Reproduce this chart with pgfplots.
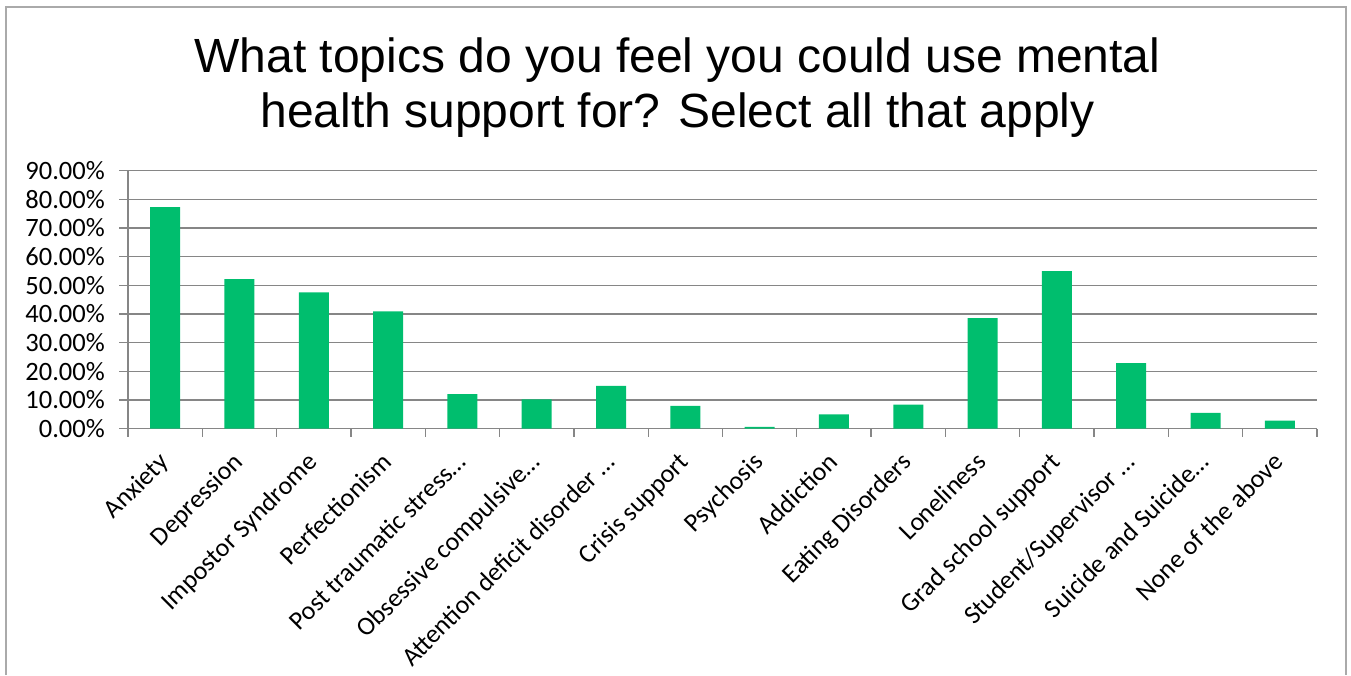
\documentclass[border=0pt]{standalone}
\usepackage{pgfplots}
\pgfplotsset{compat=1.18}
\usepackage{fontspec}
\setmainfont{Carlito}
\newfontfamily\arialfont{Liberation Sans}
\definecolor{bargreen}{RGB}{0,190,110}
\definecolor{gridgray}{RGB}{134,134,134}
\definecolor{framegray}{RGB}{170,170,170}
\begin{document}
\begin{tikzpicture}[x=1pt,y=1pt]
\useasboundingbox (0,0) rectangle (1351,675);
\draw[framegray, line width=2pt] (5.7,0) -- (5.7,668) -- (1346,668) -- (1346,0);
\node[anchor=base, font=\arialfont\fontsize{48}{55}\selectfont, inner sep=0pt] at (677.5,602.7) {What topics do you feel you could use mental};
\node[anchor=base, font=\arialfont\fontsize{48}{55}\selectfont, inner sep=0pt] at (677.5,547.3) {health support for? Select all that apply};
\begin{axis}[
  at={(128pt,246.3pt)}, anchor=south west,
  scale only axis, width=1189pt, height=258pt,
  xmin=-0.5, xmax=15.5, ymin=0, ymax=90,
  axis x line*=bottom, axis y line*=left,
  axis line style={gridgray, line width=1.3pt},
  ymajorgrids, major grid style={gridgray, line width=1.3pt},
  tick align=outside,
  major tick length=9pt, minor tick length=8pt,
  tick style={gridgray, line width=1.3pt},
  every major x tick/.style={draw=none},
  ytick={0,10,...,90},
  yticklabels={0.00\%,10.00\%,20.00\%,30.00\%,40.00\%,50.00\%,60.00\%,70.00\%,80.00\%,90.00\%},
  xtick={0,...,15},
  minor xtick={-0.5,0.5,...,15.5},
  xticklabels={Anxiety,Depression,Impostor Syndrome,Perfectionism,Post traumatic stress…,Obsessive compulsive…,Attention deficit disorder …,Crisis support,Psychosis,Addiction,Eating Disorders,Loneliness,Grad school support,Student/Supervisor …,Suicide and Suicide…,None of the above},
  /pgf/number format/assume math mode=true,
  yticklabel style={font=\fontsize{26.5}{30}\selectfont, anchor=east, inner sep=0pt, xshift=-14pt},
  xticklabel style={font=\fontsize{26}{30}\selectfont, xshift=-8pt, yshift=-13pt, rotate=45, anchor=north east, inner sep=0pt},
  ybar, bar width=30pt,
]
\addplot[fill=bargreen, draw=none] coordinates {
(0,77.3) (1,52.2) (2,47.6) (3,40.9) (4,12.1) (5,10.2) (6,14.9) (7,8.0)
(8,0.6) (9,5.0) (10,8.4) (11,38.6) (12,55.0) (13,22.9) (14,5.5) (15,2.8)};
\end{axis}
\end{tikzpicture}
\end{document}
